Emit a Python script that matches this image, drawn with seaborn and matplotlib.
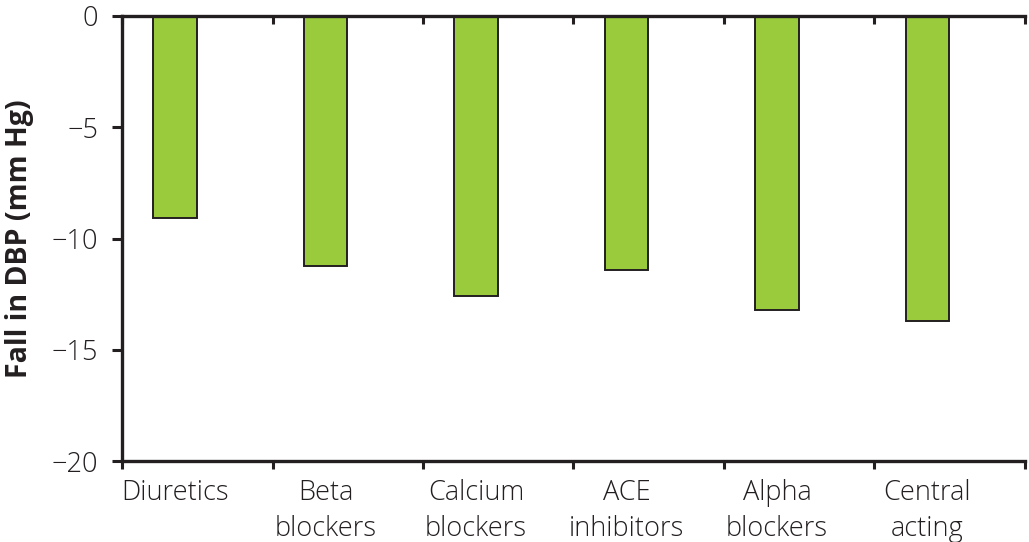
import seaborn as sns
import matplotlib.pyplot as plt
import pandas as pd
import numpy as np

# data
drug_classes = ["Diuretics", "Beta\nblockers", "Calcium\nblockers",
                "ACE\ninhibitors", "Alpha\nblockers", "Central\nacting"]
fall_dbp = [-9.1, -11.25, -12.6, -11.4, -13.2, -13.7]
y_ticks = [0, -5, -10, -15, -20]

df = pd.DataFrame({"drug": drug_classes, "fall": fall_dbp})

sns.set_style("white")
plt.rcParams["font.family"] = ["Open Sans", "DejaVu Sans"]

ink = "#231f20"
fig = plt.figure(figsize=(10.29, 5.42), dpi=100)
ax = fig.add_axes([0.1186, 0.1494, 0.8774, 0.8211])

sns.barplot(data=df, x="drug", y="fall", color="#9acb3c", saturation=1,
            edgecolor=ink, linewidth=1.4, width=0.29, ax=ax)

# bars sit left of the category cells
left = -0.352
n = len(drug_classes)
ax.set_xlim(left, left + n)
ax.set_ylim(-20, 0)

ax.set_yticks(y_ticks)
ax.set_yticklabels([f"{v}".replace("-", "\u2212") for v in y_ticks],
                   fontweight="light")
ax.set_xticks(range(n))
ax.set_xticklabels(drug_classes, linespacing=1.4, fontweight="light")
ax.set_xticks([left + k for k in range(n + 1)], minor=True)

ax.tick_params(axis="x", which="major", bottom=True, length=0, pad=13,
               labelsize=19.5, colors=ink)
ax.tick_params(axis="x", which="minor", bottom=True, length=6, width=2.2,
               direction="out", color=ink)
ax.tick_params(axis="y", left=True, length=7, width=2.2, direction="out",
               pad=10, labelsize=19.5, colors=ink)

for side in ["left", "bottom", "top"]:
    ax.spines[side].set_linewidth(2.4)
    ax.spines[side].set_color(ink)
ax.spines["right"].set_visible(False)

# tick marks hanging from the zero line
top = ax.secondary_xaxis("top")
top.set_xticks([left + k for k in range(n + 1)])
top.tick_params(top=True, length=6, width=2.2, direction="in",
                labeltop=False, color=ink)
top.spines["top"].set_visible(False)

ax.set_xlabel("")
ax.set_ylabel("Fall in DBP (mm Hg)", fontsize=20.5, fontweight="bold",
              color=ink, labelpad=13)

plt.savefig("out.png", dpi=100)
plt.close()
